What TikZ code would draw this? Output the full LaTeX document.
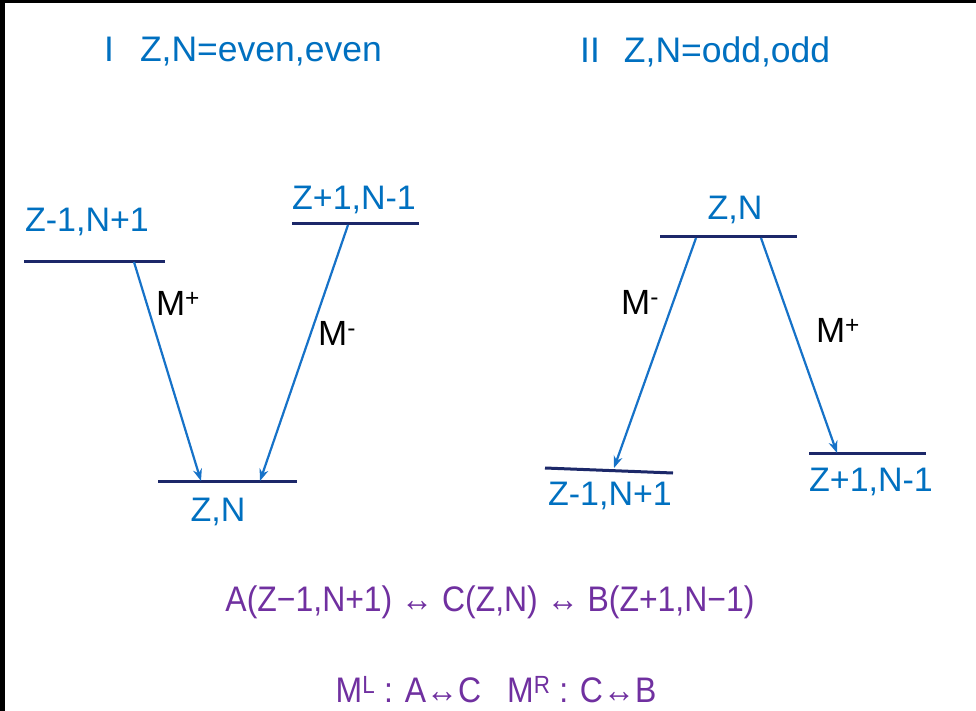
\documentclass[tikz,border=0pt]{standalone}
\usepackage{fontspec}
\setmainfont{Liberation Sans}
\newfontfamily\narrowfont[FakeStretch=0.9]{Liberation Sans}
\usetikzlibrary{arrows.meta}
\definecolor{lvlblue}{RGB}{0,112,192}
\definecolor{arrblue}{RGB}{22,114,200}
\definecolor{navy}{RGB}{28,40,105}
\definecolor{purp}{RGB}{112,48,160}
\tikzset{
  lvl/.style={draw=navy, line width=3pt},
  trans/.style={draw=arrblue, line width=2.2pt, -{Stealth[length=12pt,width=9pt]}},
  lbl/.style={text=lvlblue, font=\fontsize{34}{40}\selectfont, inner sep=0pt},
  ttl/.style={text=lvlblue, font=\fontsize{35.5}{40}\selectfont, inner sep=0pt},
  mlbl/.style={text=black, font=\fontsize{35}{40}\selectfont, inner sep=0pt},
  ptxt/.style={text=purp, font=\narrowfont\fontsize{35.5}{40}\selectfont, inner sep=0pt}
}
\begin{document}
\begin{tikzpicture}[x=1pt,y=-1pt]
\useasboundingbox (0,0) rectangle (976,711);
\fill[white] (0,0) rectangle (976,711);
\fill[black] (0,0) rectangle (5,711);
\fill[black] (0,0) rectangle (976,3);

% titles
\node[ttl, anchor=west] (t1) at (104,52) {I\hspace{26pt}Z,N=even,even};
\node[ttl, anchor=west] (t2) at (580,52) {II\hspace{24pt}Z,N=odd,odd};

% ---------- left diagram ----------
\coordinate (a1) at (24,261);  \coordinate (a2) at (165,261);
\coordinate (b1) at (292,224); \coordinate (b2) at (419,224);
\coordinate (c1) at (158,481); \coordinate (c2) at (297,481);
\draw[lvl] (a1) -- (a2);
\draw[lvl] (b1) -- (b2);
\draw[lvl] (c1) -- (c2);
\node[lbl] (la) at (87,222) {Z-1,N+1};
\node[lbl] (lb) at (354,200) {Z+1,N-1};
\node[lbl] (lc) at (218,512) {Z,N};
\coordinate (sA) at (134,262); \coordinate (eA) at (201,481);
\coordinate (sB) at (348,225); \coordinate (eB) at (260,481);
\draw[trans] (sA) -- (eA);
\draw[trans] (sB) -- (eB);
\node[mlbl] (mp1) at (178,303) {M\textsuperscript{+}};
\node[mlbl] (mm1) at (337,333) {M\textsuperscript{-}};

% ---------- right diagram ----------
\coordinate (d1) at (660,237); \coordinate (d2) at (797,237);
\coordinate (e1) at (545,468); \coordinate (e2) at (673,473);
\coordinate (f1) at (809,453); \coordinate (f2) at (926,453);
\draw[lvl] (d1) -- (d2);
\draw[lvl] (e1) -- (e2);
\draw[lvl] (f1) -- (f2);
\node[lbl] (ld) at (735,210) {Z,N};
\node[lbl] (le) at (610,496) {Z-1,N+1};
\node[lbl] (lf) at (871,482) {Z+1,N-1};
\coordinate (sC) at (696,238); \coordinate (eC) at (614,468);
\coordinate (sD) at (761,238); \coordinate (eD) at (837,453);
\draw[trans] (sC) -- (eC);
\draw[trans] (sD) -- (eD);
\node[mlbl] (mm2) at (640,302) {M\textsuperscript{-}};
\node[mlbl] (mp2) at (838,330) {M\textsuperscript{+}};

% ---------- bottom text ----------
\node[ptxt] (eq1) at (490,602) {A(Z−1,N+1) ↔ C(Z,N) ↔ B(Z+1,N−1)};
\node[ptxt] (eq2) at (496,690) {M\textsuperscript{L} : A↔C\hspace{26pt}M\textsuperscript{R} : C↔B};
\end{tikzpicture}
\end{document}
